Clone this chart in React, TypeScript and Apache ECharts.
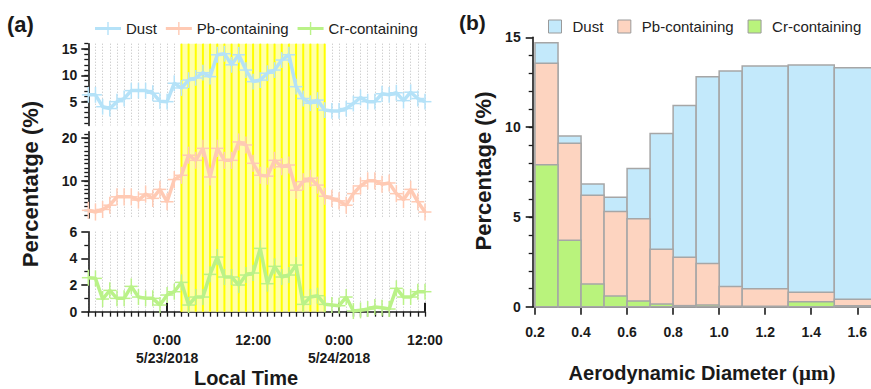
import React, { useEffect, useRef } from 'react';
import * as echarts from 'echarts';

// ---------- Panel (a): time series, hours counted from 5/22/2018 0:00 ----------
const HOURS = [13, 14, 15, 16, 17, 18, 19, 20, 21, 22, 23, 24, 25, 26, 27, 28, 29, 30, 31, 32, 33, 34, 35, 36,
  37, 38, 39, 40, 41, 42, 43, 44, 45, 46, 47, 48, 49, 50, 51, 52, 53, 54, 55, 56, 57, 58, 59, 60];
const DUST = [6.3, 6.3, 4.05, 3.7, 5.0, 5.6, 7.1, 7.1, 7.1, 6.6, 5.1, 5.0, 8.5, 7.6, 9.1, 9.5, 10.5, 9.75,
  13.9, 14.1, 12.0, 13.9, 11.0, 8.8, 9.1, 10.4, 11.0, 12.9, 13.9, 7.85, 5.6, 4.7, 5.3, 3.4, 3.25, 3.25, 3.7,
  4.65, 5.8, 5.0, 5.0, 6.5, 6.3, 6.7, 5.2, 6.8, 5.6, 5.0];
const PB = [3.1, 2.7, 3.3, 4.3, 6.25, 6.25, 6.25, 5.5, 6.9, 5.9, 8.0, 5.1, 10.3, 11.3, 16.0, 14.8, 17.6, 10.9,
  17.6, 14.8, 14.8, 19.1, 18.4, 14.1, 11.3, 11.1, 14.8, 13.3, 13.7, 7.8, 9.8, 10.6, 9.0, 6.4, 5.9, 5.3, 4.3,
  7.0, 8.8, 10.0, 10.0, 9.2, 9.5, 7.0, 5.6, 8.0, 5.1, 2.7];
const CR = [2.55, 2.5, 0.95, 1.6, 1.0, 1.0, 1.9, 1.1, 1.0, 1.0, 0.5, 1.25, 1.5, 2.2, 0.5, 1.1, 1.1, 2.8, 4.1,
  2.6, 2.6, 2.0, 2.75, 2.9, 4.75, 2.1, 3.4, 2.6, 2.75, 3.5, 0.55, 1.1, 1.2, 0.55, 0.5, 0.45, 1.1, 0.05, 0.1,
  0.2, 0.35, 0.3, 0.2, 1.75, 1.1, 1.1, 1.5, 1.5];
const DUST_ERR = 1.5;
const PB_ERR = 2.0;
const CR_ERR = 0.6;
const TIME_ERR = 0.9;
const BAND = [26, 46]; // 5/23 02:00 – 22:00
const TIME_RANGE = [13, 60];
const TIME_LABEL_HOURS = [24, 36, 48, 60];
const DUST_RANGE = [0.5, 16];
const PB_RANGE = [1.3, 21.5];
const CR_RANGE = [0, 6];
const DUST_TICKS = [5, 10, 15];
const PB_TICKS = [10, 20];
const CR_TICKS = [0, 2, 4, 6];

// ---------- Panel (b): size distribution ----------
const BIN_EDGES = [0.2, 0.3, 0.4, 0.5, 0.6, 0.7, 0.8, 0.9, 1.0, 1.1, 1.3, 1.5, 1.7];
const DUST_B = [14.7, 9.5, 6.83, 6.1, 7.7, 9.65, 11.2, 12.8, 13.13, 13.4, 13.46, 13.3];
const PB_B = [13.55, 9.1, 6.2, 5.3, 4.9, 3.2, 2.75, 2.4, 1.12, 1.0, 0.8, 0.42];
const CR_B = [7.9, 3.7, 1.27, 0.6, 0.32, 0.15, 0.06, 0.1, 0.03, 0.03, 0.27, 0.05];
const DIAM_TICKS = [0.2, 0.4, 0.6, 0.8, 1.0, 1.2, 1.4, 1.6];
const PCT_TICKS = [0, 5, 10, 15];

const NAMES = ['Dust', 'Pb-containing', 'Cr-containing'];

const SANS = "'Liberation Sans', Arial, Helvetica, sans-serif";
const SERIF = "'Liberation Serif', 'Times New Roman', serif";
const AX = '#1a1a1a';
const LINE_C = ['#B5E2F8', '#FFCAB4', '#BAF288'];
const BAR_C = ['#C3E9FB', '#FDD4C0', '#B9F37C'];
const BAR_STROKE = '#A6A6A6';

const range = (a: number, b: number, s = 1) => {
  const r: number[] = [];
  for (let v = a; v <= b + 1e-9; v += s) r.push(+v.toFixed(4));
  return r;
};

const lineAxisY = (grid: number, rng: number[], ticks: number[]) => ({
  type: 'value', gridIndex: grid, min: rng[0], max: rng[1], position: 'left',
  axisLine: { show: true, lineStyle: { color: AX, width: 1.6 } },
  axisTick: { show: true, customValues: ticks, length: 7, lineStyle: { color: AX, width: 1.6 } },
  axisLabel: {
    customValues: ticks, margin: 11, color: AX, fontSize: 14, fontWeight: 'bold', fontFamily: SANS,
  },
  splitLine: { show: false },
});
const minorAxisY = (grid: number, rng: number[], ticks: number[], len = 4) => ({
  type: 'value', gridIndex: grid, min: rng[0], max: rng[1], position: 'left', offset: 0,
  axisLine: { show: false },
  axisTick: { show: true, customValues: ticks, length: len, lineStyle: { color: AX, width: 1.3 } },
  axisLabel: { show: false },
  splitLine: { show: false },
});
const dotted = { show: true, lineStyle: { color: '#bdbdbd', type: [1, 2], width: 1 } };
const hiddenTimeX = (grid: number) => ({
  type: 'value', gridIndex: grid, min: TIME_RANGE[0], max: TIME_RANGE[1],
  axisLine: { show: false },
  axisTick: { show: false, customValues: HOURS },
  axisLabel: { show: false },
  splitLine: dotted,
});

const timeLabel = (v: number) => {
  const h = v % 24;
  const day = 22 + Math.floor(v / 24);
  return h === 0 ? `0:00\n5/${day}/2018` : `${h}:00`;
};

const lineSeries = (name: string, vals: number[], color: string, ax: number) => ({
  type: 'line', name, xAxisIndex: ax, yAxisIndex: ax * 2, z: 4,
  data: HOURS.map((h, i) => [h, vals[i]]),
  symbol: 'none', lineStyle: { color, width: 3.5 }, itemStyle: { color },
});
const errSeries = (name: string, vals: number[], err: number, color: string, ax: number) => ({
  type: 'custom', name, xAxisIndex: ax, yAxisIndex: ax * 2, z: 3, clip: false,
  data: HOURS.map((h, i) => [h, vals[i]]),
  renderItem: (_p: any, api: any) => {
    const t = api.value(0);
    const v = api.value(1);
    const l = api.coord([t - TIME_ERR, v]);
    const r = api.coord([t + TIME_ERR, v]);
    const lo = api.coord([t, v - err]);
    const hi = api.coord([t, v + err]);
    return {
      type: 'group',
      children: [
        { type: 'line', shape: { x1: l[0], y1: l[1], x2: r[0], y2: r[1] }, style: { stroke: color, lineWidth: 1.5 } },
        { type: 'line', shape: { x1: lo[0], y1: lo[1], x2: hi[0], y2: hi[1] }, style: { stroke: color, lineWidth: 1.5 } },
      ],
    };
  },
});
const barSeries = (name: string, vals: number[], color: string, z: number) => ({
  type: 'custom', name, xAxisIndex: 5, yAxisIndex: 7, z,
  data: vals.map((v, i) => [BIN_EDGES[i], BIN_EDGES[i + 1], v]),
  encode: { x: [0, 1], y: 2 },
  renderItem: (_p: any, api: any) => {
    const a = api.coord([api.value(0), api.value(2)]);
    const b = api.coord([api.value(1), 0]);
    return {
      type: 'rect',
      shape: { x: a[0], y: a[1], width: b[0] - a[0], height: b[1] - a[1] },
      style: { fill: color, stroke: BAR_STROKE, lineWidth: 1.5 },
    };
  },
});

const CROSS_ICON = 'path://M0,5H26V8H0Z M12.3,0H13.7V13H12.3Z';

const option: any = {
  animation: false,
  backgroundColor: '#ffffff',
  textStyle: { fontFamily: SANS },
  grid: [
    { left: 88.3, top: 43.7, width: 336.7, height: 81.7, outerBoundsMode: 'none' },
    { left: 88.3, top: 131.7, width: 336.7, height: 86.3, outerBoundsMode: 'none' },
    { left: 88.3, top: 231.7, width: 336.7, height: 80, outerBoundsMode: 'none' },
    { left: 88.3, top: 43.7, width: 336.7, height: 268, outerBoundsMode: 'none' },
    { left: 532.7, top: 37.3, width: 347.6, height: 269.4, outerBoundsMode: 'none' },
  ],
  legend: [
    {
      left: 90, top: 16, itemWidth: 26, itemHeight: 13, itemGap: 9, selectedMode: false,
      textStyle: { fontSize: 15, color: '#222', fontFamily: SANS },
      data: NAMES.map((n, i) => ({ name: n, icon: CROSS_ICON, itemStyle: { color: LINE_C[i], borderWidth: 0 } })),
    },
    {
      left: 543, top: 14, itemWidth: 13, itemHeight: 13, itemGap: 14, selectedMode: false,
      textStyle: { fontSize: 15, color: '#222', fontFamily: SANS, padding: [0, 0, 0, 6] },
      data: NAMES.map((n, i) => ({
        name: n, icon: 'rect', itemStyle: { color: BAR_C[i], borderColor: '#9a9a9a', borderWidth: 1 },
      })),
    },
  ],
  xAxis: [
    hiddenTimeX(0),
    hiddenTimeX(1),
    {
      type: 'value', gridIndex: 2, min: TIME_RANGE[0], max: TIME_RANGE[1],
      axisLine: { show: true, lineStyle: { color: AX, width: 1.6 } },
      axisTick: { show: true, customValues: HOURS, length: 5, lineStyle: { color: AX, width: 1.3 } },
      axisLabel: {
        customValues: TIME_LABEL_HOURS, formatter: timeLabel, margin: 19, color: AX, fontSize: 14,
        fontWeight: 'bold', fontFamily: SANS, lineHeight: 18,
      },
      splitLine: dotted,
    },
    {
      type: 'value', gridIndex: 2, min: TIME_RANGE[0], max: TIME_RANGE[1],
      axisLine: { show: false },
      axisTick: { show: true, customValues: TIME_LABEL_HOURS, length: 9, lineStyle: { color: AX, width: 2 } },
      axisLabel: { show: false },
      splitLine: { show: false },
    },
    { type: 'value', gridIndex: 3, min: TIME_RANGE[0], max: TIME_RANGE[1], show: false },
    {
      type: 'value', gridIndex: 4, min: 0.19, max: 1.7,
      axisLine: { show: true, lineStyle: { color: AX, width: 1.6 } },
      axisTick: { show: true, customValues: DIAM_TICKS, length: 8, lineStyle: { color: AX, width: 1.6 } },
      axisLabel: {
        customValues: DIAM_TICKS, formatter: (v: number) => v.toFixed(1), margin: 18, color: AX,
        fontSize: 14, fontWeight: 'bold', fontFamily: SANS,
      },
      splitLine: { show: false },
    },
  ],
  yAxis: [
    lineAxisY(0, DUST_RANGE, DUST_TICKS),
    minorAxisY(0, DUST_RANGE, range(1, 16)),
    lineAxisY(1, PB_RANGE, PB_TICKS),
    minorAxisY(1, PB_RANGE, range(2, 21)),
    lineAxisY(2, CR_RANGE, CR_TICKS),
    minorAxisY(2, CR_RANGE, range(1, 5, 2)),
    { type: 'value', gridIndex: 3, min: 0, max: 1, show: false },
    {
      type: 'value', gridIndex: 4, min: 0, max: 15, position: 'left',
      axisLine: { show: true, lineStyle: { color: AX, width: 1.6 } },
      axisTick: { show: true, customValues: PCT_TICKS, length: 7, lineStyle: { color: AX, width: 1.6 } },
      axisLabel: { customValues: PCT_TICKS, margin: 12, color: AX, fontSize: 14, fontWeight: 'bold', fontFamily: SANS },
      splitLine: { show: false },
    },
    minorAxisY(4, [0, 15], range(1, 14)),
  ],
  series: [
    {
      type: 'custom', name: 'band', xAxisIndex: 4, yAxisIndex: 6, z: 1, silent: true,
      data: [BAND],
      renderItem: (_p: any, api: any) => {
        const s = api.value(0);
        const e = api.value(1);
        const a = api.coord([s, 1]);
        const b = api.coord([e, 0]);
        const children: any[] = [
          { type: 'rect', shape: { x: a[0], y: a[1], width: b[0] - a[0], height: b[1] - a[1] }, style: { fill: '#FFFFAA' } },
        ];
        for (let h = s; h <= e; h += 1) {
          const p = api.coord([h, 0]);
          children.push({
            type: 'line', shape: { x1: p[0], y1: a[1], x2: p[0], y2: b[1] },
            style: { stroke: '#FFFF00', lineWidth: 2 },
          });
        }
        return { type: 'group', children };
      },
    },
    lineSeries(NAMES[0], DUST, LINE_C[0], 0),
    lineSeries(NAMES[1], PB, LINE_C[1], 1),
    lineSeries(NAMES[2], CR, LINE_C[2], 2),
    errSeries('Dust error', DUST, DUST_ERR, LINE_C[0], 0),
    errSeries('Pb error', PB, PB_ERR, LINE_C[1], 1),
    errSeries('Cr error', CR, CR_ERR, LINE_C[2], 2),
    barSeries(NAMES[0], DUST_B, BAR_C[0], 2),
    barSeries(NAMES[1], PB_B, BAR_C[1], 3),
    barSeries(NAMES[2], CR_B, BAR_C[2], 4),
  ],
  graphic: [
    { type: 'text', x: 7, y: 24, style: { text: '(a)', fill: AX, fontSize: 22, fontWeight: 'bold', fontFamily: SANS, verticalAlign: 'middle' } },
    { type: 'text', x: 459, y: 22, style: { text: '(b)', fill: AX, fontSize: 21, fontWeight: 'bold', fontFamily: SANS, verticalAlign: 'middle' } },
    {
      type: 'text', x: 30, y: 184, rotation: Math.PI / 2,
      style: { text: 'Percentatge (%)', fill: AX, fontSize: 22, fontWeight: 'bold', fontFamily: SANS, align: 'center', verticalAlign: 'middle' },
    },
    {
      type: 'text', x: 483, y: 171, rotation: Math.PI / 2,
      style: { text: 'Percentage (%)', fill: AX, fontSize: 22, fontWeight: 'bold', fontFamily: SANS, align: 'center', verticalAlign: 'middle' },
    },
    {
      type: 'text', x: 246, y: 378,
      style: { text: 'Local Time', fill: AX, fontSize: 20, fontWeight: 'bold', fontFamily: SANS, align: 'center', verticalAlign: 'middle' },
    },
    {
      type: 'text', x: 702, y: 373,
      style: {
        text: '{a|Aerodynamic Diameter }{b|(μm)}', align: 'center', verticalAlign: 'middle',
        rich: {
          a: { fill: AX, fontSize: 20, fontWeight: 'bold', fontFamily: SANS },
          b: { fill: AX, fontSize: 21, fontWeight: 'bold', fontFamily: SERIF },
        },
      },
    },
  ],
};

export default function App() {
  const ref = useRef<HTMLDivElement>(null);
  useEffect(() => {
    const chart = echarts.init(ref.current as HTMLDivElement, null, { renderer: 'svg' });
    chart.setOption(option);
    return () => chart.dispose();
  }, []);
  return (
    <div
      ref={ref}
      style={{ position: 'fixed', left: 0, top: 0, width: 871, height: 389, background: '#ffffff' }}
    />
  );
}
